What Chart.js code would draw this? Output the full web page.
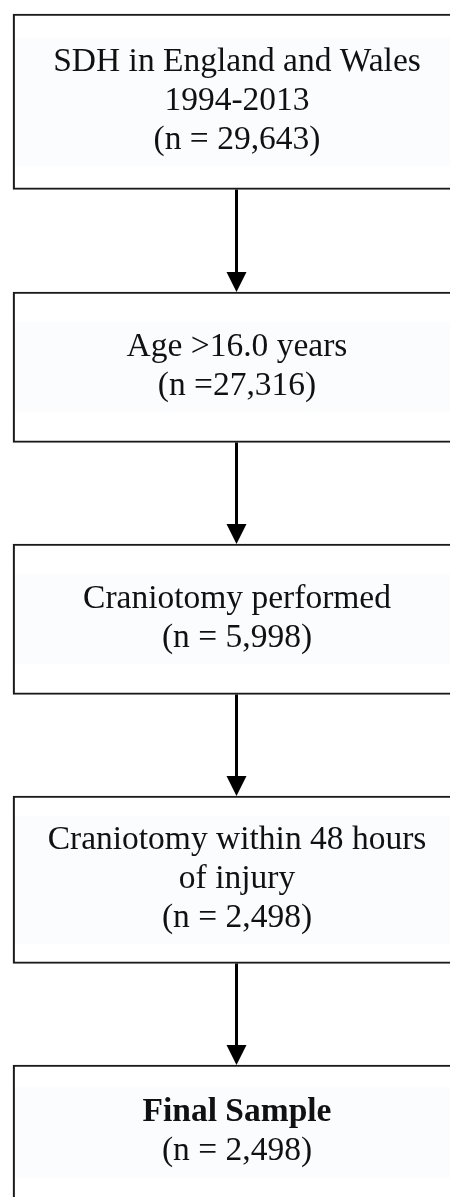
<!DOCTYPE html>
<html>
<head>
<meta charset="utf-8">
<script src="https://cdn.jsdelivr.net/npm/chart.js@4/dist/chart.umd.min.js"></script>
<style>
  html, body { margin: 0; padding: 0; background: #ffffff; }
  canvas { display: block; }
</style>
</head>
<body>
<canvas id="c" width="450" height="1197"></canvas>
<script>
// ---- data ----
const stageLines = [
  ['SDH in England and Wales', '1994-2013'],
  ['Age >16.0 years'],
  ['Craniotomy performed'],
  ['Craniotomy within 48 hours', 'of injury'],
  ['Final Sample']
];
const stageCounts = [29643, 27316, 5998, 2498, 2498];
const countPrefixes = ['(n = ', '(n =', '(n = ', '(n = ', '(n = '];
const stageBold = [false, false, false, false, true];

// ---- layout (flow axis positions of each box: top / bottom) ----
const boxTop = [14, 292, 544, 796, 1065];
const boxBottom = [189.5, 442.5, 694.5, 963.5, 1200];

const FONT = '"Liberation Serif", "Times New Roman", serif';
const FONT_SIZE = 33.5;
const LINE_H = 39;

const flowPlugin = {
  id: 'flow',
  afterDatasetsDraw(chart) {
    const ctx = chart.ctx;
    const els = chart.data.datasets.map((d, i) => chart.getDatasetMeta(i).data[0]);
    ctx.save();
    els.forEach((el, i) => {
      const top = Math.min(el.y, el.base);
      const bottom = Math.max(el.y, el.base);
      const left = el.x - el.width / 2;
      const cy = (top + bottom) / 2;
      const lines = stageLines[i].concat([countPrefixes[i] + stageCounts[i].toLocaleString('en-US') + ')']);
      const n = lines.length;
      // faint text background
      const fh = n * 38 + 14;
      ctx.fillStyle = '#fbfcfe';
      ctx.fillRect(left + 2, cy - fh / 2, el.width, fh);
      // text
      ctx.fillStyle = '#111111';
      ctx.textAlign = 'center';
      ctx.textBaseline = 'alphabetic';
      lines.forEach((t, j) => {
        const isTitleBold = stageBold[i] && j < stageLines[i].length;
        ctx.font = (isTitleBold ? 'bold ' : '') + FONT_SIZE + 'px ' + FONT;
        const y = cy + (j - (n - 1) / 2) * LINE_H + 8;
        ctx.fillText(t, el.x, y);
      });
    });
    // arrows
    ctx.fillStyle = '#000';
    ctx.strokeStyle = '#000';
    for (let i = 0; i < els.length - 1; i++) {
      const a = els[i], b = els[i + 1];
      const x = a.x - 0.5;
      const y0 = Math.max(a.y, a.base);
      const y1 = Math.min(b.y, b.base);
      ctx.lineWidth = 3;
      ctx.beginPath();
      ctx.moveTo(x, y0);
      ctx.lineTo(x, y1 - 18);
      ctx.stroke();
      ctx.beginPath();
      ctx.moveTo(x - 10, y1 - 20);
      ctx.lineTo(x + 10, y1 - 20);
      ctx.lineTo(x, y1);
      ctx.closePath();
      ctx.fill();
    }
    ctx.restore();
  }
};

new Chart(document.getElementById('c'), {
  type: 'bar',
  data: {
    labels: ['flow'],
    datasets: stageLines.map((l, i) => ({
      label: l.join(' '),
      data: [[boxTop[i], boxBottom[i]]],
      backgroundColor: '#ffffff',
      borderColor: '#1a1a1a',
      borderWidth: 2.2,
      borderSkipped: false,
      grouped: false,
      barThickness: 448,
      clip: false
    }))
  },
  options: {
    responsive: false,
    animation: false,
    devicePixelRatio: 1,
    layout: { padding: { left: 24, right: 0, top: 0, bottom: 0 } },
    plugins: { legend: { display: false }, tooltip: { enabled: false } },
    scales: {
      x: { display: false, offset: true },
      y: { display: false, min: 0, max: 1197, reverse: true }
    }
  },
  plugins: [flowPlugin]
});
</script>
</body>
</html>
